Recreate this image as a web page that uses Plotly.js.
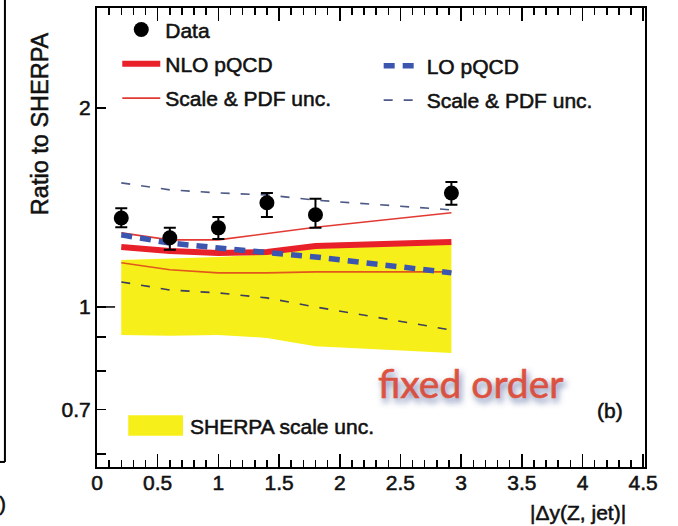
<!DOCTYPE html>
<html>
<head>
<meta charset="utf-8">
<script src="https://cdn.plot.ly/plotly-3.0.1.min.js"></script>
<style>
html,body{margin:0;padding:0;background:#fff;}
#chart{width:678px;height:526px;}
</style>
</head>
<body>
<div id="chart"></div>
<script>
// Bin centres of |Δy(Z, jet)|
var xBins = [0.2, 0.6, 1.0, 1.4, 1.8, 2.92];

// Data / SHERPA
var dataVals = [1.363, 1.272, 1.317, 1.437, 1.378, 1.487];
var dataErrPlus = [0.047, 0.045, 0.051, 0.050, 0.079, 0.058];
var dataErrMinus = [0.043, 0.052, 0.050, 0.069, 0.061, 0.060];

// NLO pQCD / SHERPA
var nloVals = [1.232, 1.215, 1.207, 1.211, 1.236, 1.254];
var nloHi = [1.294, 1.263, 1.263, 1.290, 1.320, 1.388];
var nloLo = [1.166, 1.138, 1.126, 1.126, 1.130, 1.130];

// LO pQCD / SHERPA
var loVals = [1.285, 1.249, 1.228, 1.211, 1.190, 1.126];
var loHi = [1.540, 1.503, 1.487, 1.477, 1.450, 1.402];
var loLo = [1.091, 1.061, 1.050, 1.032, 1.000, 0.923];

// SHERPA scale uncertainty band
var sherpaHi = [1.178, 1.183, 1.190, 1.200, 1.225, 1.245];
var sherpaLo = [0.907, 0.905, 0.907, 0.898, 0.872, 0.852];

// Axis ticks
var yTickVals = [0.7, 1, 2];
var yTickText = ['0.7', '1', '2'];
var yMinorVals = [0.6, 0.8, 0.9];
var xTickVals = [0, 0.5, 1, 1.5, 2, 2.5, 3, 3.5, 4, 4.5];
var xTickText = ['0', '0.5', '1', '1.5', '2', '2.5', '3', '3.5', '4', '4.5'];

var FONT = 'Liberation Sans, Arial, Helvetica, sans-serif';

var bandX = xBins.concat(xBins.slice().reverse());
var bandY = sherpaHi.concat(sherpaLo.slice().reverse());

var traces = [
  {x: bandX, y: bandY, type: 'scatter', mode: 'lines', fill: 'toself',
   fillcolor: '#f7ef1a', line: {width: 0, color: '#f7ef1a'}, showlegend: false, hoverinfo: 'skip'},
  {x: xBins, y: loLo, type: 'scatter', mode: 'lines', showlegend: false,
   line: {color: '#3c3f5c', width: 1.6, dash: '9px,11px'}},
  {x: xBins, y: loHi, type: 'scatter', mode: 'lines', name: 'Scale & PDF unc.',
   legend: 'legend2', legendrank: 2, legendgroup: 'g5',
   line: {color: '#4e5a86', width: 1.6, dash: '9px,11px'}},
  {x: xBins, y: nloLo, type: 'scatter', mode: 'lines', showlegend: false,
   line: {color: '#e2571c', width: 1.6}},
  {x: xBins, y: nloHi, type: 'scatter', mode: 'lines', name: 'Scale & PDF unc.',
   legend: 'legend', legendrank: 3, legendgroup: 'g3',
   line: {color: '#e23a32', width: 1.6}},
  {x: xBins, y: nloVals, type: 'scatter', mode: 'lines', name: 'NLO pQCD',
   legend: 'legend', legendrank: 2, legendgroup: 'g2',
   line: {color: '#e8202a', width: 6}},
  {x: xBins, y: loVals, type: 'scatter', mode: 'lines', name: 'LO pQCD',
   legend: 'legend2', legendrank: 1, legendgroup: 'g4',
   line: {color: '#3c56b0', width: 5.5, dash: '11px,8px'}},
  {x: xBins, y: dataVals, type: 'scatter', mode: 'markers', name: 'Data',
   legend: 'legend', legendrank: 1, legendgroup: 'g1',
   marker: {color: '#000', size: 15, symbol: 'circle'},
   error_y: {type: 'data', symmetric: false, array: dataErrPlus, arrayminus: dataErrMinus,
             color: '#000', thickness: 2, width: 6}}
];

var legendBase = {
  xanchor: 'left', yanchor: 'top', bgcolor: 'rgba(0,0,0,0)',
  font: {family: FONT, size: 21, color: '#111'},
  traceorder: 'grouped', tracegroupgap: 4, itemwidth: 38
};

var layout = {
  width: 678, height: 526,
  margin: {l: 97, r: 33, t: 8, b: 59, pad: 0},
  paper_bgcolor: '#fff', plot_bgcolor: '#fff',
  font: {family: FONT, size: 21, color: '#111'},
  xaxis: {
    range: [0, 4.515], showgrid: false, zeroline: false,
    showline: true, linecolor: '#000', linewidth: 2, mirror: 'ticks',
    ticks: 'inside', ticklen: 13, tickwidth: 1.5, tickcolor: '#000',
    tickmode: 'array', tickvals: xTickVals, ticktext: xTickText,
    ticklabelstandoff: -4,
    tickfont: {family: FONT, size: 21, color: '#111'},
    minor: {dtick: 0.1, tick0: 0, ticks: 'inside', ticklen: 7, tickwidth: 1.5, tickcolor: '#000', showgrid: false}
  },
  yaxis: {
    type: 'log', range: [Math.log10(0.573), Math.log10(2.83)],
    showgrid: false, zeroline: false,
    showline: true, linecolor: '#000', linewidth: 2, mirror: true,
    ticks: 'inside', ticklen: 9, tickwidth: 1.5, tickcolor: '#000',
    tickmode: 'array', tickvals: yTickVals, ticktext: yTickText,
    tickfont: {family: FONT, size: 21, color: '#111'},
    minor: {tickmode: 'array', tickvals: yMinorVals, ticks: 'inside', ticklen: 9, tickwidth: 1.5, tickcolor: '#000', showgrid: false}
  },
  legend: Object.assign({}, legendBase, {x: 0.037, y: 0.997}),
  legend2: Object.assign({}, legendBase, {x: 0.514, y: 0.918}),
  showlegend: true,
  shapes: [
    {type: 'line', xref: 'paper', yref: 'y', x0: 0, x1: 0.033, y0: 1, y1: 1,
     line: {color: '#000', width: 1.5}},
    {type: 'rect', xref: 'paper', yref: 'paper', x0: 0.057, x1: 0.157, y0: 0.068, y1: 0.113,
     fillcolor: '#f7ef1a', line: {width: 0}},
    {type: 'line', xref: 'paper', yref: 'paper', x0: -0.168, x1: -0.168, y0: 1.05, y1: 0.011,
     line: {color: '#000', width: 2}},
    {type: 'line', xref: 'paper', yref: 'paper', x0: -0.18, x1: -0.168, y0: 0.011, y1: 0.011,
     line: {color: '#000', width: 2}}
  ],
  annotations: [
    {text: 'fixed order', xref: 'paper', yref: 'paper', x: 0.682, y: 0.183,
     xanchor: 'center', yanchor: 'middle', showarrow: false,
     font: {family: 'Lato, Open Sans, sans-serif', size: 39, color: '#e5533d'}},
    {text: '(b)', xref: 'paper', yref: 'paper', x: 0.936, y: 0.124,
     xanchor: 'center', yanchor: 'middle', showarrow: false,
     font: {family: FONT, size: 21, color: '#111'}},
    {text: 'SHERPA scale unc.', xref: 'paper', yref: 'paper', x: 0.166, y: 0.089,
     xanchor: 'left', yanchor: 'middle', showarrow: false,
     font: {family: FONT, size: 21, color: '#111'}},
    {text: 'Ratio to SHERPA', xref: 'paper', yref: 'paper', x: -0.104, y: 0.747,
     xanchor: 'center', yanchor: 'middle', showarrow: false, textangle: -90,
     font: {family: FONT, size: 23.5, color: '#111'}},
    {text: '|Δy(Z, jet)|', xref: 'paper', yref: 'paper', x: 0.878, y: -0.1,
     xanchor: 'center', yanchor: 'middle', showarrow: false,
     font: {family: FONT, size: 21, color: '#111'}},
    {text: ')', xref: 'paper', yref: 'paper', x: -0.172, y: -0.08,
     xanchor: 'center', yanchor: 'middle', showarrow: false,
     font: {family: FONT, size: 21, color: '#111'}}
  ]
};

function thicken() {
  var texts = document.querySelectorAll('#chart text');
  texts.forEach(function (t) {
    if (t.textContent === 'fixed order') {
      t.style.stroke = '#e5533d';
      t.style.strokeWidth = '0.6px';
      t.style.textShadow = '2px 4px 6px rgba(70,90,150,0.65)';
    } else {
      t.style.stroke = '#111';
      t.style.strokeWidth = '0.55px';
    }
  });
}

Plotly.newPlot('chart', traces, layout, {displayModeBar: false, staticPlot: true}).then(function () {
  thicken();
  setTimeout(thicken, 0);
  setTimeout(thicken, 50);
  requestAnimationFrame(thicken);
});
</script>
</body>
</html>
